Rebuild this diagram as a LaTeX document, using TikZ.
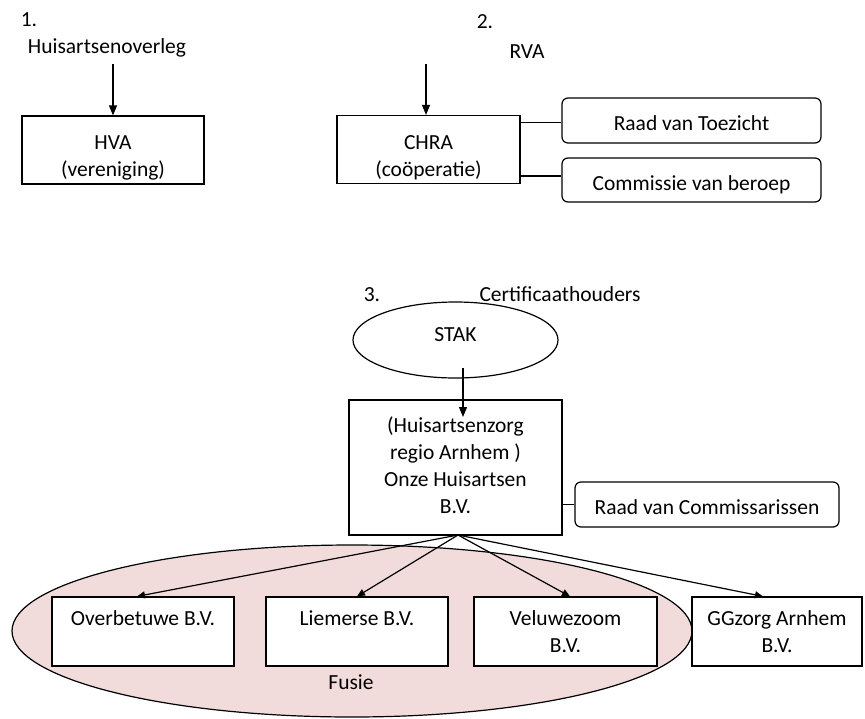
\documentclass[tikz,border=0pt]{standalone}
\usepackage{fontspec}
\setmainfont{Carlito}
\usetikzlibrary{shapes.geometric,arrows.meta}
\definecolor{fusiepink}{HTML}{F2DCDB}
\tikzset{
  txt/.style={font=\fontsize{21.5}{27}\selectfont, inner sep=0pt, align=center},
  box/.style={txt, draw, line width=1.2pt, fill=white, rectangle},
  rbox/.style={box, rounded corners=6pt, text height=20pt, text depth=0pt},
  conn/.style={line width=1.2pt},
  arr/.style={line width=1.2pt, -{Triangle[length=10pt,width=8pt]}},
  arrs/.style={line width=1.2pt, -{Triangle[length=8pt,width=7pt]}},
}
\begin{document}
\begin{tikzpicture}[x=1pt,y=-1pt]
\useasboundingbox (0,0) rectangle (865,718);
% Part 1
\node[txt] (l1) at (29,20) {1.};
\node[txt] (hov) at (107,48) {Huisartsenoverleg};
\node[box, minimum width=182pt, minimum height=68pt] (hva) at (113,150) {};
\node[txt] (hvat) at ([yshift=-8pt]hva.center) {HVA\\(vereniging)};
\coordinate (a1) at (113,64);
\draw[arr] (a1) -- (hva.north);
% Part 2
\node[txt] (l2) at (485,22) {2.};
\node[txt] (rva) at (527,52) {RVA};
\node[box, minimum width=183pt, minimum height=68pt] (chra) at (428.5,149.5) {};
\node[txt] (chrat) at ([yshift=-8pt]chra.center) {CHRA\\(coöperatie)};
\coordinate (a2) at (426,64);
\draw[arr] (a2) -- (a2 |- chra.north);
\node[rbox, minimum width=259pt, minimum height=45pt] (rvt) at (691.5,120.5) {Raad van Toezicht};
\node[rbox, minimum width=259pt, minimum height=44pt] (cvb) at (691.5,180) {Commissie van beroep};
\draw[conn] ([yshift=-2pt]chra.east |- rvt.west) -- ([yshift=-2pt]rvt.west);
\draw[conn] ([yshift=4pt]chra.east |- cvb.west) -- ([yshift=4pt]cvb.west);
% Part 3
\node[txt] (l3) at (372,295) {3.};
\node[txt] (cert) at (560,294) {Certificaathouders};
\node[draw, line width=1.2pt, ellipse, minimum width=205pt, minimum height=76pt, inner sep=0pt] (stak) at (455.5,340) {};
\node[txt] (stakt) at ([yshift=5pt]stak.center) {STAK};
\node[box, minimum width=213pt, minimum height=135pt] (main) at (455.5,467.5) {};
\node[txt] (maint) at ([yshift=2pt]main.center) {(Huisartsenzorg\\regio Arnhem )\\Onze Huisartsen\\B.V.};
\coordinate (a3s) at (463,368);
\coordinate (a3e) at (463,417);
\draw[arr] (a3s) -- (a3e);
\node[rbox, minimum width=264pt, minimum height=45pt] (rvc) at (707,504.5) {Raad van Commissarissen};
\draw[conn] (main.east |- rvc.west) -- (rvc.west);
% Fusie
\node[draw, line width=1.2pt, fill=fusiepink, ellipse, minimum width=680pt, minimum height=172pt, inner sep=0pt] (fus) at (352,631) {};
\node[txt] (fusl) at (351,682) {Fusie};
\node[box, minimum width=182pt, minimum height=69pt] (ob) at (143,631.5) {Overbetuwe B.V.\\\mbox{}};
\node[box, minimum width=182pt, minimum height=69pt] (li) at (357,631.5) {Liemerse B.V.\\\mbox{}};
\node[box, minimum width=183pt, minimum height=69pt] (ve) at (565.5,631.5) {Veluwezoom\\B.V.};
\node[box, minimum width=170pt, minimum height=69pt] (gg) at (777,631.5) {GGzorg Arnhem\\B.V.};
\coordinate (src) at (458,535);
\draw[arrs] (src) -- ([xshift=-6pt]ob.north);
\draw[arrs] (src) -- (li.north);
\draw[arrs] (src) -- ([xshift=4.5pt]ve.north);
\draw[arrs] (src) -- ([xshift=-14pt]gg.north);
\end{tikzpicture}
\end{document}
